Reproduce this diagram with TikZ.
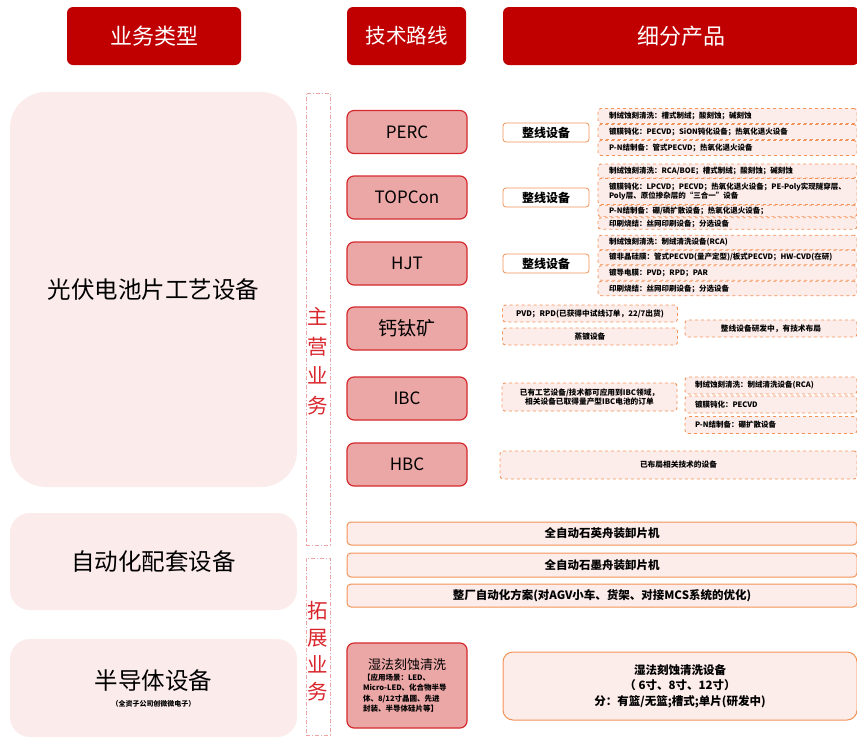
\documentclass[tikz,border=0pt]{standalone}
\usepackage{fontspec}
\setmainfont{Noto Sans CJK SC}
\usetikzlibrary{positioning}
\definecolor{hdred}{HTML}{C00000}
\definecolor{bizpink}{HTML}{FBEBEA}
\definecolor{routered}{HTML}{D42A2E}
\definecolor{routefill}{HTML}{EBA6A6}
\definecolor{prodorange}{HTML}{F39257}
\definecolor{prodpink}{HTML}{FCECEA}
\definecolor{labelred}{HTML}{D8262C}
\definecolor{dashpink}{HTML}{EBA3A3}
\tikzstyle{header} = [rectangle, rounded corners=6pt, fill=hdred, text=white, minimum height=58pt, font=\fontsize{22}{26}\selectfont]
\tikzstyle{bizbox} = [rectangle, fill=bizpink, minimum width=287pt, text centered, font=\fontsize{23.5}{27}\selectfont]
\tikzstyle{bizlabel} = [rectangle, draw=dashpink, line width=0.8pt, dash pattern=on 4pt off 2pt on 1pt off 2pt, minimum width=24pt]
\tikzstyle{bizword} = [text=labelred, align=center, font=\fontsize{20.5}{29.5}\selectfont]
\tikzstyle{route} = [rectangle, rounded corners=7pt, draw=routered, line width=1.2pt, fill=routefill, minimum width=120pt, minimum height=43pt, text centered, font=\fontsize{17}{20}\selectfont]
\tikzstyle{lineeq} = [rectangle, rounded corners=3pt, draw=prodorange, line width=0.8pt, fill=white, minimum width=86pt, minimum height=19pt, font=\bfseries\fontsize{12}{14}\selectfont]
\tikzstyle{prod} = [rectangle, rounded corners=3pt, draw=prodorange, dashed, line width=0.9pt, fill=prodpink, text width=237pt, align=left, inner xsep=11pt, inner ysep=0.5pt, font=\bfseries\fontsize{7.5}{9.5}\selectfont]
\tikzstyle{prodc} = [rectangle, rounded corners=3pt, draw=prodorange, dashed, line width=0.9pt, fill=prodpink, align=center, inner xsep=2pt, inner ysep=0.5pt, font=\bfseries\fontsize{7.7}{10}\selectfont]
\tikzstyle{autorow} = [rectangle, rounded corners=4pt, draw=prodorange, line width=1pt, fill=prodpink, minimum width=510pt, text centered, font=\bfseries\fontsize{11.5}{15.5}\selectfont]

\begin{document}
\begin{tikzpicture}[x=1pt, y=-1pt]
\useasboundingbox (0,0) rectangle (857,740);
%表头
\node[header, minimum width=174pt](hdtype) at (154,36){业务类型};
\node[header, minimum width=119pt, font=\fontsize{20.5}{24}\selectfont](hdroute) at (406.5,36){技术路线};
\node[header, minimum width=356pt](hdprod) at (681,36){细分产品};
%业务类型
\node[bizbox, rounded corners=36pt, minimum height=395pt](pv) at (153.5,289.5){光伏电池片工艺设备};
\node[bizbox, rounded corners=20pt, minimum height=97pt](autom) at (153.5,561.5){自动化配套设备};
\node[bizbox, rounded corners=20pt, minimum height=98pt, align=center](semi) at (153.5,688){半导体设备\\[-10pt]{\bfseries\fontsize{7}{8}\selectfont （全资子公司创微微电子）}};
\node[bizlabel, minimum height=452pt](mainbox) at (318,319){};
\node[bizword](mainword) at (318,361){主\\营\\业\\务};
\node[bizlabel, minimum height=177pt](extbox) at (318,646.5){};
\node[bizword, font=\fontsize{20.5}{27}\selectfont](extword) at (318,651){拓\\展\\业\\务};
%技术路线
\node[route](perc) at (407,132){PERC};
\node[route](topcon) at (407,197.5){TOPCon};
\node[route](hjt) at (407,263.5){HJT};
\node[route, font=\fontsize{19}{22}\selectfont](pvsk) at (407,328.5){钙钛矿};
\node[route](ibc) at (407,398.5){IBC};
\node[route](hbc) at (407,464.5){HBC};
\node[route, minimum height=85pt](wet) at (407,685.5){\parbox{88pt}{\centering\fontsize{13}{16}\selectfont 湿法刻蚀清洗\par
  \raggedright\bfseries\fontsize{7.5}{10.5}\selectfont 【应用场景：LED、\\Micro-LED、化合物半导\\体、8/12寸晶圆、先进\\封装、半导体硅片等】}};
%整线设备
\node[lineeq](percline) at (546,132.5){整线设备};
\node[lineeq](topconline) at (546,197.5){整线设备};
\node[lineeq](hjtline) at (546,263.5){整线设备};
%细分产品 PERC
\node[prod, minimum height=15pt](perc1) at (727.5,116){制绒蚀刻清洗：槽式制绒；酸刻蚀；碱刻蚀};
\node[prod, minimum height=15pt](perc2) at (727.5,132){镀膜钝化：PECVD；SiON钝化设备；热氧化退火设备};
\node[prod, minimum height=15pt](perc3) at (727.5,148){P-N结制备：管式PECVD；热氧化退火设备};
%TOPCon
\node[prod, minimum height=14pt](topcon1) at (727.5,171){制绒蚀刻清洗：RCA/BOE；槽式制绒；酸刻蚀；碱刻蚀};
\node[prod, minimum height=26pt](topcon2) at (727.5,191.5){镀膜钝化：LPCVD；PECVD；热氧化退火设备；PE-Poly实现隧穿层、\\Poly层、原位掺杂层的“三合一”设备};
\node[prod, minimum height=11.5pt](topcon3) at (727.5,211){P-N结制备：硼/磷扩散设备；热氧化退火设备；};
\node[prod, minimum height=11.5pt](topcon4) at (727.5,223.5){印刷烧结：丝网印刷设备；分选设备};
%HJT
\node[prod, minimum height=14.5pt](hjt1) at (727.5,242.5){制绒蚀刻清洗：制绒清洗设备(RCA)};
\node[prod, minimum height=14.5pt](hjt2) at (727.5,257.5){镀非晶硅膜：管式PECVD(量产定型)/板式PECVD；HW-CVD(在研)};
\node[prod, minimum height=14.5pt](hjt3) at (727.5,273){镀导电膜：PVD；RPD；PAR};
\node[prod, minimum height=14.5pt](hjt4) at (727.5,288.5){印刷烧结：丝网印刷设备；分选设备};
%钙钛矿
\node[prodc, minimum width=175pt, minimum height=17pt](pvsk1) at (590,313.5){PVD；RPD(已获得中试线订单，22/7出货)};
\node[prodc, minimum width=175pt, minimum height=17pt](pvsk2) at (590,336.5){蒸镀设备};
\node[prodc, minimum width=172pt, minimum height=17pt](pvsk3) at (771,328.5){整线设备研发中，有技术布局};
%IBC
\node[prodc, minimum width=175pt, minimum height=28pt](ibc0) at (589.5,397){已有工艺设备/技术都可应用到IBC领域，\\[-1pt]相关设备已取得量产型IBC电池的订单};
\node[prod, text width=152pt, inner xsep=10pt, minimum height=17pt](ibc1) at (771,385.5){制绒蚀刻清洗：制绒清洗设备(RCA)};
\node[prod, text width=152pt, inner xsep=10pt, minimum height=17pt](ibc2) at (771,404.5){镀膜钝化：PECVD};
\node[prod, text width=152pt, inner xsep=10pt, minimum height=17pt](ibc3) at (771,425){P-N结制备：硼扩散设备};
%HBC
\node[prodc, minimum width=357pt, minimum height=28pt](hbc0) at (678.5,465){已布局相关技术的设备};
%自动化配套设备
\node[autorow, minimum height=23pt](quartz) at (602,533.5){全自动石英舟装卸片机};
\node[autorow, minimum height=24pt](graphite) at (602,565){全自动石墨舟装卸片机};
\node[autorow, minimum height=23pt](factory) at (602,595.5){整厂自动化方案(对AGV小车、货架、对接MCS系统的优化)};
%半导体设备
\node[autorow, rounded corners=10pt, minimum width=354pt, minimum height=68pt, align=center](wetprod) at (680,686){湿法刻蚀清洗设备\\（ 6寸、8寸、12寸）\\分：有篮/无篮;槽式;单片(研发中)};
\end{tikzpicture}
\end{document}
